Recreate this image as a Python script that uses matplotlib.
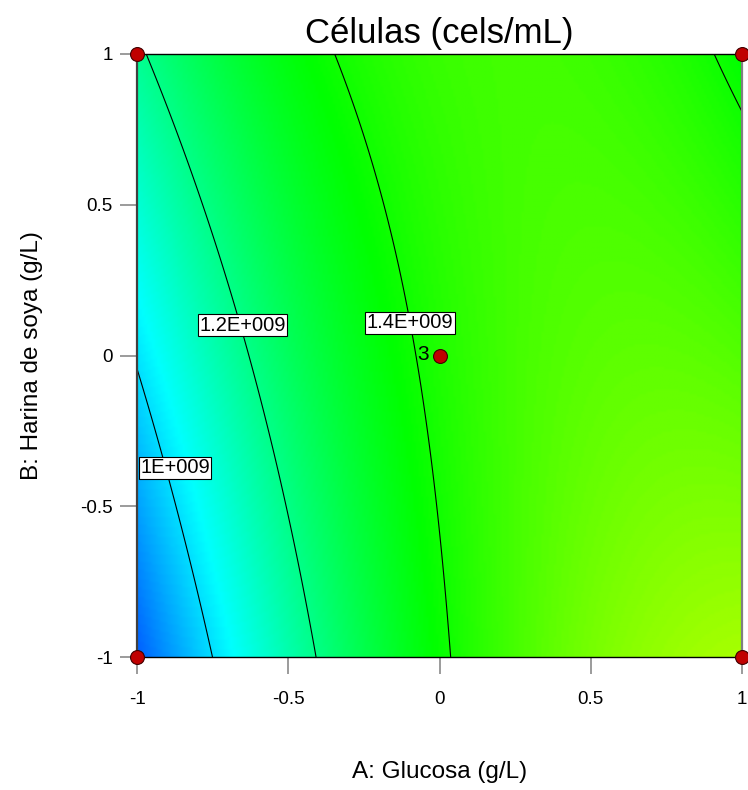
import numpy as np
import matplotlib
matplotlib.use("Agg")
import matplotlib.pyplot as plt
from matplotlib.colors import LinearSegmentedColormap

plt.rcParams['font.family'] = ['Liberation Sans', 'DejaVu Sans']

# Response surface model (coded factors), values in 1e9 cels/mL
# terms: intercept, A, B, AB, A^2, B^2
coef_names = ['c0', 'A', 'B', 'AB', 'A2', 'B2']
coef_values = [1.4198, 0.241, 0.0339, -0.145, -0.171, 0.0001]

levels = [1.0e9, 1.2e9, 1.4e9, 1.6e9]
level_labels = ['1E+009', '1.2E+009', '1.4E+009', '1.6E+009']

# design points (A, B) and run counts
design_a = [-1, -1, 1, 1, 0]
design_b = [-1, 1, 1, -1, 0]
center_runs = '3'

ticks = [-1, -0.5, 0, 0.5, 1]
tick_labels = ['-1', '-0.5', '0', '0.5', '1']

title = 'Células (cels/mL)'
xlabel = 'A: Glucosa (g/L)'
ylabel = 'B: Harina de soya (g/L)'

# evaluate model on a grid
c = dict(zip(coef_names, coef_values))
a = np.linspace(-1, 1, 241)
b = np.linspace(-1, 1, 241)
A, B = np.meshgrid(a, b)
Z = (c['c0'] + c['A'] * A + c['B'] * B + c['AB'] * A * B
     + c['A2'] * A ** 2 + c['B2'] * B ** 2) * 1e9

cmap = LinearSegmentedColormap.from_list(
    'dx', ['#0000ff', '#00ffff', '#00ff00', '#ffff00', '#ff0000'])

fig = plt.figure(figsize=(7.48, 7.9), dpi=100)
ax = fig.add_axes([137 / 748, 133 / 790, 605 / 748, 603 / 790])

ax.imshow(Z, extent=[-1, 1, -1, 1], origin='lower', cmap=cmap,
          vmin=0.70e9, vmax=2.06e9, interpolation='bilinear', aspect='auto')

cs = ax.contour(A, B, Z, levels=levels, colors='black', linewidths=0.8)
fmt = dict(zip(levels, level_labels))
label_spots = [(-0.874, -0.373), (-0.651, 0.101), (-0.0975, 0.108)]
texts = ax.clabel(cs, levels=levels[:3], fmt=fmt, inline=False, fontsize=14.5,
                  manual=label_spots)
for t, spot in zip(texts, label_spots):
    t.set_rotation(0)
    t.set_position(spot)
    t.set_bbox(dict(facecolor='white', edgecolor='black', pad=1.0, linewidth=0.8))

ax.plot(design_a, design_b, 'o', color='#c00000', markeredgecolor='#400000',
        markersize=10, markeredgewidth=0.8, clip_on=False, zorder=5)
ax.annotate(center_runs, (0, 0), xytext=(-8, 1), textcoords='offset points',
            ha='right', va='center', fontsize=15, zorder=6)

ax.set_xlim(-1, 1)
ax.set_ylim(-1, 1)
ax.set_xticks(ticks)
ax.set_xticklabels(tick_labels)
ax.set_yticks(ticks)
ax.set_yticklabels(tick_labels)
ax.tick_params(axis='both', direction='out', length=12.5, width=1.1,
               color='#808080', labelsize=13.5)
ax.tick_params(axis='x', pad=12)
ax.tick_params(axis='y', pad=5)

for side in ['top', 'bottom']:
    ax.spines[side].set_color('black')
    ax.spines[side].set_linewidth(1.0)
ax.spines['left'].set_color('#404040')
ax.spines['left'].set_linewidth(1.6)
ax.spines['right'].set_color('#808080')
ax.spines['right'].set_linewidth(1.6)

ax.set_title(title, fontsize=25, pad=8)
ax.set_xlabel(xlabel, fontsize=17.5, labelpad=38)
ax.set_ylabel(ylabel, fontsize=17.5, labelpad=27)

fig.savefig('out.png', dpi=100)
plt.close(fig)
